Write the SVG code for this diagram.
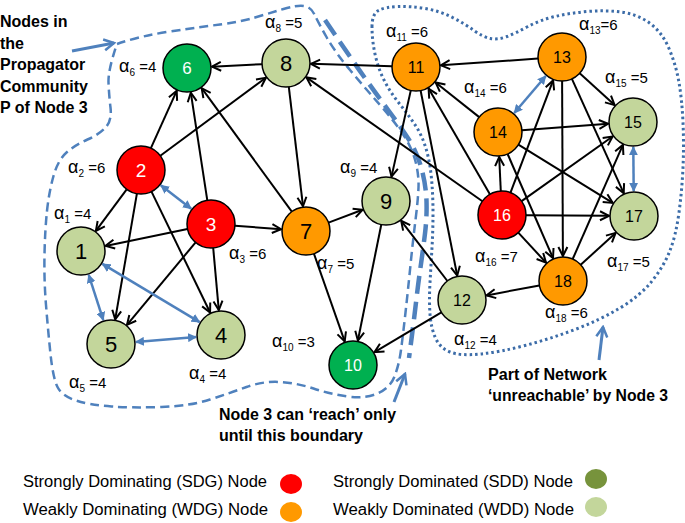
<svg xmlns="http://www.w3.org/2000/svg" width="685" height="523" viewBox="0 0 685 523">
<style>
.n{stroke:#000;stroke-width:1.5}
.sdg{fill:#FF0000}.wdg{fill:#FF9900}.sdd{fill:#00B050}.wdd{fill:#C3D69B}
.num{font-family:"Liberation Sans",Arial,sans-serif;text-anchor:middle}
.big{font-size:22px;fill:#000}.mid{font-size:19px;fill:#fff}.sm{font-size:16px;fill:#000}.smw{font-size:16px;fill:#fff}
.al{font-family:"Liberation Sans",Arial,sans-serif;font-size:15px;fill:#000}
.a{font-size:18px}
.sub{font-size:10px}
.e{stroke:#000;stroke-width:2;fill:none;marker-end:url(#ah)}
.b{stroke:#4F81BD;stroke-width:2.5;fill:none;marker-start:url(#bh);marker-end:url(#bh)}
.lbl{font-family:"Liberation Sans",Arial,sans-serif;font-size:16px;font-weight:bold;fill:#000}
.leg{font-family:"Liberation Sans",Arial,sans-serif;font-size:16px;fill:#000}
.ann{stroke:#4F81BD;stroke-width:3;fill:none;marker-end:url(#oh)}
</style>
<defs>
<marker id="ah" viewBox="0 0 12 12" refX="11" refY="6" markerWidth="12" markerHeight="12" markerUnits="userSpaceOnUse" orient="auto">
<path d="M2,1.5 L11,6 L2,10.5" fill="none" stroke="#000" stroke-width="2"/>
</marker>
<marker id="bh" viewBox="0 0 10 10" refX="9" refY="5" markerWidth="9" markerHeight="9" markerUnits="userSpaceOnUse" orient="auto-start-reverse">
<path d="M0,0 L10,5 L0,10 Z" fill="#4F81BD"/>
</marker>
<marker id="oh" viewBox="0 0 14 14" refX="12" refY="7" markerWidth="14" markerHeight="14" markerUnits="userSpaceOnUse" orient="auto">
<path d="M2,1.5 L12,7 L2,12.5" fill="none" stroke="#4F81BD" stroke-width="2.5"/>
</marker>
</defs>
<rect width="685" height="523" fill="#fff"/>

<g id="boundaries">
<path d="M117,44 Q140,36 170,31.5 Q200,27 220,24.5 Q240,22 255,17.5 Q270,13 283.5,9 Q297,5 304,6 Q311,7 314.5,14.5 Q318,22 326.5,37 Q335,52 350,70 Q365,88 380,105 Q395,122 403.5,135 Q412,148 415.5,161.5 Q419,175 418.5,187.5 Q418,200 415.5,220 Q413,240 410.5,265 Q408,290 405.5,312.5 Q403,335 401,350 Q399,365 394.5,376.5 Q390,388 377.5,393.5 Q365,399 347.5,396.5 Q330,394 313.5,388.5 Q297,383 280,382 Q263,381 246.5,387 Q230,393 210,399.5 Q190,406 161.5,407 Q133,408 111.5,406.5 Q90,405 76,400.5 Q62,396 57.5,387 Q53,378 50.5,354 Q48,330 46,305 Q44,280 44.5,255 Q45,230 47,211 Q49,192 53.5,176 Q58,160 66.5,152.5 Q75,145 87.5,139.5 Q100,134 106,127 Q112,120 110.5,107.5 Q109,95 108.5,82.5 Q108,70 117,44 Z" fill="none" stroke="#4F81BD" stroke-width="2.5" stroke-dasharray="9 5"/>
<path d="M325,20 Q350,57 363.5,76 Q377,95 388.5,110.5 Q400,126 408.5,139 Q417,152 421.5,168.5 Q426,185 426.5,201 Q427,217 425,233.5 Q423,250 420.5,267.5 Q418,285 416,302.5 Q414,320 409,358" fill="none" stroke="#4F81BD" stroke-width="4.5" stroke-dasharray="18 8"/>
<path d="M372,27 Q372,14 378.5,10.5 Q385,7 397.5,6.5 Q410,6 425,8.5 Q440,11 452.5,17.5 Q465,24 474,30.5 Q483,37 490.5,38.5 Q498,40 507,36.5 Q516,33 528,26.5 Q540,20 555,16.5 Q570,13 587.5,11.5 Q605,10 621,12 Q637,14 649.5,23 Q662,32 669,48.5 Q676,65 679,82.5 Q682,100 683,122.5 Q684,145 683,167.5 Q682,190 679,212.5 Q676,235 670,250.5 Q664,266 652,281 Q640,296 620,308 Q600,320 575,329.5 Q550,339 525,345.5 Q500,352 480,354 Q460,356 450,352 Q440,348 435.5,338 Q431,328 430,314 Q429,300 430,282.5 Q431,265 432,247.5 Q433,230 433,212.5 Q433,195 431.5,178.5 Q430,162 426,148.5 Q422,135 414.5,124 Q407,113 398.5,102.5 Q390,92 384,80 Q378,68 375,54 Q372,40 372,27 Z" fill="none" stroke="#3C6CA8" stroke-width="3" stroke-dasharray="2.5 3"/>
</g>

<g id="annotations">
<line class="ann" x1="72" y1="51" x2="114" y2="43"/>
<line class="ann" x1="394" y1="402" x2="405" y2="374"/>
<line class="ann" x1="599" y1="360" x2="603" y2="327"/>
<text class="lbl" x="0" y="27">Nodes in</text>
<text class="lbl" x="0" y="48.5">the</text>
<text class="lbl" x="0" y="70">Propagator</text>
<text class="lbl" x="0" y="91.5">Community</text>
<text class="lbl" x="0" y="113">P of Node 3</text>
<text class="lbl" x="219" y="420" textLength="177" lengthAdjust="spacingAndGlyphs">Node 3 can ‘reach’ only</text>
<text class="lbl" x="219" y="441" textLength="144" lengthAdjust="spacingAndGlyphs">until this boundary</text>
<text class="lbl" x="488" y="380" textLength="119" lengthAdjust="spacingAndGlyphs">Part of Network</text>
<text class="lbl" x="488" y="401" textLength="180" lengthAdjust="spacingAndGlyphs">‘unreachable’ by Node 3</text>
</g>

<g id="connectors">
<line class="e" x1="150.9" y1="148.1" x2="176.7" y2="90.8"/>
<line class="e" x1="207.3" y1="200.3" x2="190.8" y2="92.7"/>
<line class="e" x1="291.8" y1="211.6" x2="201.7" y2="88.2"/>
<line class="e" x1="262.0" y1="64.2" x2="212.0" y2="66.7"/>
<line class="e" x1="160.3" y1="155.7" x2="265.9" y2="77.8"/>
<line class="e" x1="288.8" y1="86.8" x2="303.0" y2="206.2"/>
<line class="e" x1="482.4" y1="201.2" x2="306.4" y2="77.4"/>
<line class="e" x1="392.0" y1="66.3" x2="311.0" y2="63.8"/>
<line class="e" x1="410.8" y1="90.4" x2="391.5" y2="176.6"/>
<line class="e" x1="420.6" y1="90.5" x2="457.2" y2="275.5"/>
<line class="e" x1="479.2" y1="117.1" x2="435.6" y2="82.5"/>
<line class="e" x1="489.9" y1="194.3" x2="428.6" y2="88.6"/>
<line class="e" x1="538.1" y1="58.6" x2="440.9" y2="65.3"/>
<line class="e" x1="579.7" y1="73.2" x2="614.6" y2="105.1"/>
<line class="e" x1="521.9" y1="130.2" x2="608.1" y2="123.8"/>
<line class="e" x1="510.5" y1="192.6" x2="553.1" y2="80.4"/>
<line class="e" x1="562.1" y1="81" x2="562.9" y2="256"/>
<line class="e" x1="571.9" y1="78.9" x2="623.7" y2="193.2"/>
<line class="e" x1="518.4" y1="144.6" x2="612.7" y2="202.9"/>
<line class="e" x1="507.6" y1="154.0" x2="553.0" y2="258.1"/>
<line class="e" x1="500.8" y1="191.0" x2="499.2" y2="157.0"/>
<line class="e" x1="521.6" y1="201.1" x2="612.6" y2="136.5"/>
<line class="e" x1="526" y1="215.2" x2="609" y2="215.8"/>
<line class="e" x1="518.3" y1="232.6" x2="546.0" y2="262.6"/>
<line class="e" x1="572.7" y1="259.0" x2="622.9" y2="144.9"/>
<line class="e" x1="580.7" y1="264.8" x2="615.6" y2="232.9"/>
<line class="e" x1="539.4" y1="285.4" x2="486.6" y2="295.4"/>
<line class="e" x1="447.4" y1="281.0" x2="401.2" y2="220.8"/>
<line class="e" x1="441.4" y1="312.3" x2="374.5" y2="352.2"/>
<line class="e" x1="381.3" y1="224.5" x2="357.9" y2="340.5"/>
<line class="e" x1="313.9" y1="253.6" x2="344.7" y2="341.4"/>
<line class="e" x1="328.5" y1="222.6" x2="362.6" y2="209.8"/>
<line class="e" x1="234.9" y1="225.8" x2="281.1" y2="229.2"/>
<line class="e" x1="187.5" y1="228.9" x2="105.5" y2="245.9"/>
<line class="e" x1="195.6" y1="242.4" x2="127.0" y2="324.8"/>
<line class="e" x1="213.2" y1="247.9" x2="218.8" y2="310.1"/>
<line class="e" x1="126.7" y1="189.3" x2="95.9" y2="230.9"/>
<line class="e" x1="136.9" y1="193.6" x2="115.2" y2="319.4"/>
<line class="e" x1="151.5" y1="191.6" x2="210.1" y2="312.5"/>
<line class="b" x1="160.8" y1="185.3" x2="191.2" y2="208.7"/>
<line class="b" x1="88.7" y1="274.8" x2="103.3" y2="320.2"/>
<line class="b" x1="102.4" y1="263.9" x2="199.6" y2="322.1"/>
<line class="b" x1="135.9" y1="342.0" x2="196.1" y2="337.0"/>
<line class="b" x1="514.2" y1="113.0" x2="545.8" y2="76.0"/>
<line class="b" x1="633.3" y1="147" x2="633.7" y2="191"/>
</g>

<g id="node1"><circle class="n wdd" cx="81" cy="251" r="24"/><text class="num big" x="81" y="259">1</text><text class="al" x="54" y="219"><tspan class="a">α</tspan><tspan class="sub" dy="4">1</tspan><tspan dy="-4"> =4</tspan></text></g>
<g id="node2"><circle class="n sdg" cx="141" cy="170" r="24"/><text class="num mid" x="141" y="177">2</text><text class="al" x="68" y="173"><tspan class="a">α</tspan><tspan class="sub" dy="4">2</tspan><tspan dy="-4"> =6</tspan></text></g>
<g id="node3"><circle class="n sdg" cx="211" cy="224" r="24"/><text class="num mid" x="211" y="231">3</text><text class="al" x="229" y="259"><tspan class="a">α</tspan><tspan class="sub" dy="4">3</tspan><tspan dy="-4"> =6</tspan></text></g>
<g id="node4"><circle class="n wdd" cx="221" cy="335" r="24"/><text class="num big" x="221" y="343">4</text><text class="al" x="189" y="379"><tspan class="a">α</tspan><tspan class="sub" dy="4">4</tspan><tspan dy="-4"> =4</tspan></text></g>
<g id="node5"><circle class="n wdd" cx="111" cy="344" r="24"/><text class="num big" x="111" y="352">5</text><text class="al" x="69" y="388"><tspan class="a">α</tspan><tspan class="sub" dy="4">5</tspan><tspan dy="-4"> =4</tspan></text></g>
<g id="node6"><circle class="n sdd" cx="187" cy="68" r="24"/><text class="num" x="187" y="74" font-size="17" fill="#fff">6</text><text class="al" x="119" y="72"><tspan class="a">α</tspan><tspan class="sub" dy="4">6</tspan><tspan dy="-4"> =4</tspan></text></g>
<g id="node7"><circle class="n wdg" cx="306" cy="231" r="24"/><text class="num big" x="306" y="239">7</text><text class="al" x="317" y="269"><tspan class="a">α</tspan><tspan class="sub" dy="4">7</tspan><tspan dy="-4"> =5</tspan></text></g>
<g id="node8"><circle class="n wdd" cx="286" cy="63" r="24"/><text class="num big" x="286" y="71">8</text><text class="al" x="265" y="28"><tspan class="a">α</tspan><tspan class="sub" dy="4">8</tspan><tspan dy="-4"> =5</tspan></text></g>
<g id="node9"><circle class="n wdd" cx="386" cy="201" r="24"/><text class="num big" x="386" y="209">9</text><text class="al" x="340" y="173"><tspan class="a">α</tspan><tspan class="sub" dy="4">9</tspan><tspan dy="-4"> =4</tspan></text></g>
<g id="node10"><circle class="n sdd" cx="353" cy="365" r="24"/><text class="num smw" x="353" y="371">10</text><text class="al" x="272" y="347"><tspan class="a">α</tspan><tspan class="sub" dy="4">10</tspan><tspan dy="-4"> =3</tspan></text></g>
<g id="node11"><circle class="n wdg" cx="416" cy="67" r="24"/><text class="num sm" x="416" y="73">11</text><text class="al" x="386" y="37"><tspan class="a">α</tspan><tspan class="sub" dy="4">11</tspan><tspan dy="-4"> =6</tspan></text></g>
<g id="node12"><circle class="n wdd" cx="462" cy="300" r="24"/><text class="num sm" x="462" y="306">12</text><text class="al" x="454" y="345"><tspan class="a">α</tspan><tspan class="sub" dy="4">12</tspan><tspan dy="-4"> =4</tspan></text></g>
<g id="node13"><circle class="n wdg" cx="562" cy="57" r="24"/><text class="num sm" x="562" y="63">13</text><text class="al" x="579" y="30"><tspan class="a">α</tspan><tspan class="sub" dy="4">13</tspan><tspan dy="-4">=6</tspan></text></g>
<g id="node14"><circle class="n wdg" cx="498" cy="132" r="24"/><text class="num sm" x="498" y="138">14</text><text class="al" x="464" y="93"><tspan class="a">α</tspan><tspan class="sub" dy="4">14</tspan><tspan dy="-4"> =6</tspan></text></g>
<g id="node15"><circle class="n wdd" cx="633" cy="122" r="24"/><text class="num sm" x="633" y="128">15</text><text class="al" x="605" y="83"><tspan class="a">α</tspan><tspan class="sub" dy="4">15</tspan><tspan dy="-4"> =5</tspan></text></g>
<g id="node16"><circle class="n sdg" cx="502" cy="215" r="24"/><text class="num smw" x="502" y="221">16</text><text class="al" x="475" y="262"><tspan class="a">α</tspan><tspan class="sub" dy="4">16</tspan><tspan dy="-4"> =7</tspan></text></g>
<g id="node17"><circle class="n wdd" cx="634" cy="216" r="24"/><text class="num sm" x="634" y="222">17</text><text class="al" x="607" y="267"><tspan class="a">α</tspan><tspan class="sub" dy="4">17</tspan><tspan dy="-4"> =5</tspan></text></g>
<g id="node18"><circle class="n wdg" cx="563" cy="281" r="24"/><text class="num sm" x="563" y="287">18</text><text class="al" x="545" y="318"><tspan class="a">α</tspan><tspan class="sub" dy="4">18</tspan><tspan dy="-4"> =6</tspan></text></g>

<g id="legend">
<text class="leg" x="23" y="487" textLength="244" lengthAdjust="spacingAndGlyphs">Strongly Dominating (SDG) Node</text>
<ellipse cx="291" cy="484" rx="11" ry="10" fill="#FF0000"/>
<text class="leg" x="23" y="515" textLength="245" lengthAdjust="spacingAndGlyphs">Weakly Dominating (WDG) Node</text>
<ellipse cx="291" cy="512" rx="11" ry="10" fill="#FF9900"/>
<text class="leg" x="333" y="487" textLength="240" lengthAdjust="spacingAndGlyphs">Strongly Dominated (SDD) Node</text>
<ellipse cx="596" cy="479" rx="11" ry="10" fill="#77933C"/>
<text class="leg" x="333" y="515" textLength="241" lengthAdjust="spacingAndGlyphs">Weakly Dominated (WDD) Node</text>
<ellipse cx="596" cy="507" rx="11" ry="10" fill="#C3D69B"/>
</g>
</svg>
